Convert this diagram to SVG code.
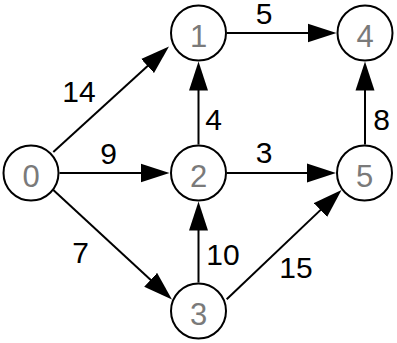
<svg xmlns="http://www.w3.org/2000/svg" width="397" height="343" viewBox="0 0 397 343">
<style>
.node circle{fill:#fff;stroke:#000;stroke-width:2}
.node text{font-family:"Liberation Sans",Arial,sans-serif;font-size:31px;fill:#7a7a7a;text-anchor:middle}
.edge line{stroke:#000;stroke-width:2;fill:none;marker-end:url(#arrow)}
.lbl{font-family:"Liberation Sans",Arial,sans-serif;font-size:30px;fill:#000;text-anchor:middle}
</style>
<defs>
<marker id="arrow" markerUnits="userSpaceOnUse" markerWidth="30" markerHeight="20" viewBox="0 -10 30 20" refX="19" refY="0" orient="auto">
<path d="M0,-9.5 L29,0 L0,9.5 Z" fill="#000"/>
</marker>
</defs>
<rect width="397" height="343" fill="#fff"/>
<g id="edges">
<g class="edge" id="e0-1"><line x1="53.3" y1="152" x2="161.6" y2="53.2"/></g>
<g class="edge" id="e0-2"><line x1="59.5" y1="173" x2="159.5" y2="173"/></g>
<g class="edge" id="e0-3"><line x1="53.3" y1="190" x2="164.6" y2="292.7"/></g>
<g class="edge" id="e1-4"><line x1="227" y1="33" x2="326.5" y2="33"/></g>
<g class="edge" id="e2-1"><line x1="198.5" y1="144.5" x2="198.5" y2="71.5"/></g>
<g class="edge" id="e2-5"><line x1="227" y1="173" x2="326" y2="173"/></g>
<g class="edge" id="e5-4"><line x1="365" y1="144.5" x2="365" y2="71.5"/></g>
<g class="edge" id="e3-2"><line x1="198.5" y1="282.5" x2="198.5" y2="211.5"/></g>
<g class="edge" id="e3-5"><line x1="226.7" y1="299.3" x2="334.3" y2="196.9"/></g>
</g>
<g id="edge-labels">
<text class="lbl" x="79" y="102">14</text>
<text class="lbl" x="108.5" y="163.5">9</text>
<text class="lbl" x="213.5" y="130">4</text>
<text class="lbl" x="264" y="24">5</text>
<text class="lbl" x="264" y="163">3</text>
<text class="lbl" x="381.5" y="130">8</text>
<text class="lbl" x="80.5" y="263">7</text>
<text class="lbl" x="223" y="265">10</text>
<text class="lbl" x="296" y="278">15</text>
</g>
<g class="node" id="n0"><circle cx="31" cy="173" r="27.5"/><text x="31" y="187">0</text></g>
<g class="node" id="n1"><circle cx="198.5" cy="33" r="27.5"/><text x="198.5" y="47">1</text></g>
<g class="node" id="n2"><circle cx="198.5" cy="173" r="27.5"/><text x="198.5" y="187">2</text></g>
<g class="node" id="n3"><circle cx="198.5" cy="311" r="27.5"/><text x="198.5" y="325">3</text></g>
<g class="node" id="n4"><circle cx="365" cy="33" r="27.5"/><text x="365" y="47">4</text></g>
<g class="node" id="n5"><circle cx="364.5" cy="173" r="27.5"/><text x="364.5" y="187">5</text></g>
</svg>
